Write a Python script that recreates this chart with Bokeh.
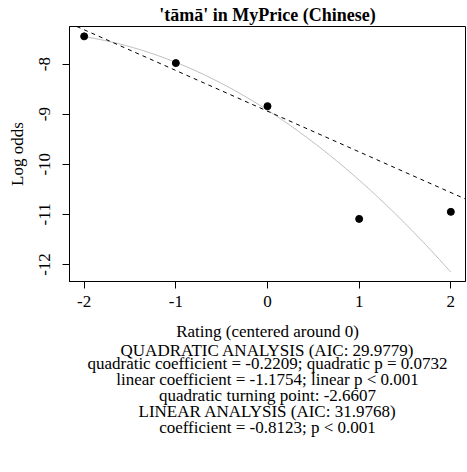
import numpy as np
from bokeh.plotting import figure
from bokeh.models import Range1d, FixedTicker, Slope, Title
from bokeh.embed import file_html
from bokeh.resources import INLINE

# ---- data ----
rating = [-2, -1, 0, 1, 2]
log_odds = [-7.447, -7.98, -8.84, -11.09, -10.95]
x_ticks = [-2, -1, 0, 1, 2]
y_ticks = [-12, -11, -10, -9, -8]

quad_intercept = -8.92
quad_linear = -1.1754
quad_quadratic = -0.2209
lin_intercept = -8.94
lin_slope = -0.8123

title_text = "'tāmā' in MyPrice (Chinese)"
x_label = "Rating (centered around 0)"
y_label = "Log odds"
stats_lines = [
    "QUADRATIC ANALYSIS (AIC: 29.9779)",
    "quadratic coefficient = -0.2209; quadratic p = 0.0732",
    "linear coefficient = -1.1754; linear p < 0.001",
    "quadratic turning point: -2.6607",
    "LINEAR ANALYSIS (AIC: 31.9768)",
    "coefficient = -0.8123; p < 0.001",
]

FONT = "Liberation Serif"
FS = "17px"
X_LO, X_HI = -2.16, 2.16
Y_LO, Y_HI = -12.34, -7.25

p = figure(width=466, height=470, output_backend="svg", toolbar_location=None,
           x_range=Range1d(X_LO, X_HI), y_range=Range1d(Y_LO, Y_HI),
           min_border_left=69, min_border_right=1, min_border_top=26,
           min_border_bottom=189)

p.title.text = title_text
p.title.text_font = FONT
p.title.text_font_size = "18px"
p.title.text_font_style = "bold"
p.title.text_color = "black"
p.title.align = "center"
p.title.standoff = 4
p.title.text_line_height = 0.8

p.grid.visible = False
p.outline_line_color = "black"
p.outline_line_width = 1
p.outline_line_alpha = 1
p.background_fill_color = "white"
p.border_fill_color = "white"

for ax in (p.xaxis[0], p.yaxis[0]):
    ax.major_tick_out = 7
    ax.major_tick_in = 0
    ax.minor_tick_line_color = None
    ax.major_tick_line_color = "black"
    ax.axis_line_color = "black"
    ax.major_label_text_font = FONT
    ax.major_label_text_font_size = FS
    ax.major_label_text_color = "black"
    ax.axis_label_text_font = FONT
    ax.axis_label_text_font_size = FS
    ax.axis_label_text_font_style = "normal"
    ax.axis_label_text_color = "black"

p.xaxis.ticker = FixedTicker(ticks=x_ticks)
p.yaxis.ticker = FixedTicker(ticks=y_ticks)
p.xaxis.major_label_overrides = {t: str(t) for t in x_ticks}
p.yaxis.major_label_overrides = {t: str(t) for t in y_ticks}
p.xaxis.major_label_standoff = 7
p.yaxis.major_label_standoff = 12
p.yaxis.major_label_orientation = "vertical"
p.xaxis.axis_label = x_label
p.yaxis.axis_label = y_label
p.xaxis.axis_label_standoff = 12
p.yaxis.axis_label_standoff = 10

# fitted quadratic curve (from the reported coefficients)
xs = np.linspace(min(rating), max(rating), 161)
ys = quad_intercept + quad_linear * xs + quad_quadratic * xs ** 2
p.line(xs, ys, line_color="#BEBEBE", line_width=1)

# linear fit (abline)
p.add_layout(Slope(gradient=lin_slope, y_intercept=lin_intercept,
                   line_color="black", line_width=1, line_dash="4 4"))

p.scatter(rating, log_odds, size=7, color="black")

for i, line in enumerate(stats_lines):
    t = Title(text=line, align="center", text_font=FONT, text_font_size=FS,
              text_font_style="normal", text_color="black",
              standoff=-10.5 if i == 0 else -4.9)
    p.add_layout(t, "below")

open("out.html", "w").write(file_html(p, INLINE))
